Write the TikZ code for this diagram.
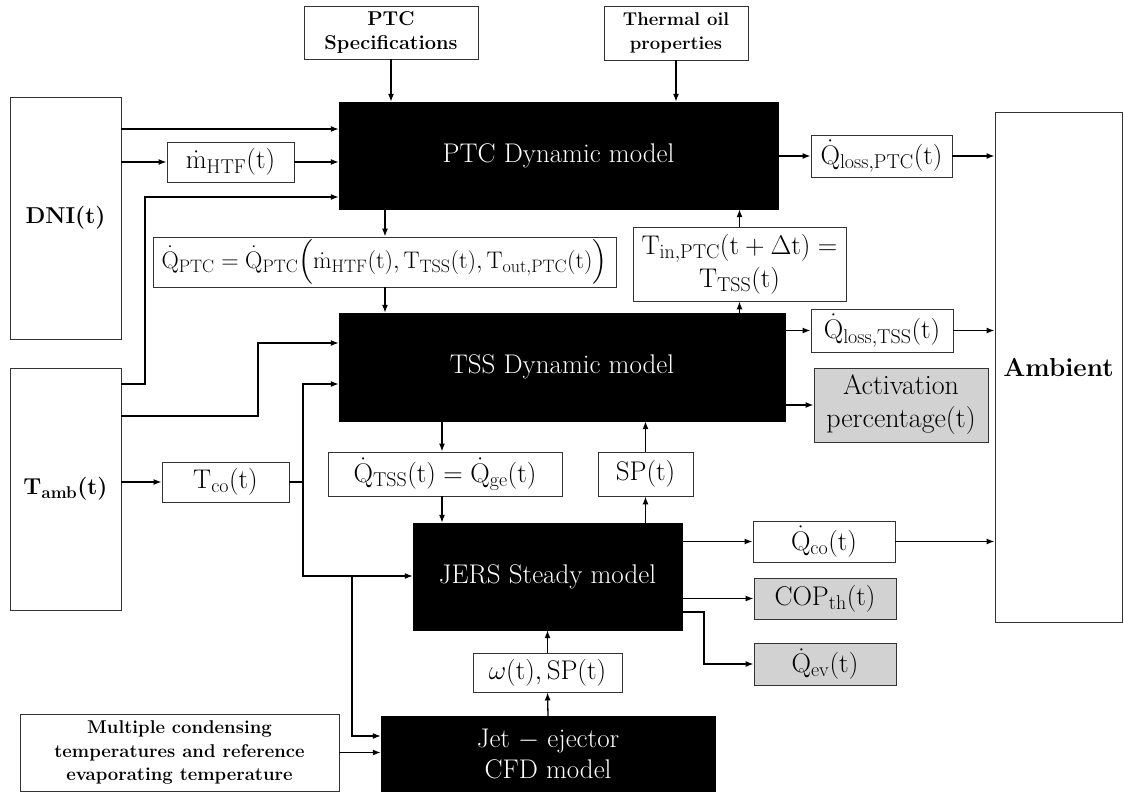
\RequirePackage{fix-cm}
\documentclass[tikz,border=0pt]{standalone}
\usepackage{amsmath}
\usetikzlibrary{arrows.meta}
\DeclareMathSizes{27}{27}{20}{15}
\DeclareMathSizes{24}{24}{18}{13}
\DeclareMathSizes{23}{23}{17}{13}
\tikzset{
  sz/.style 2 args={minimum width=#1pt, minimum height=#2pt},
  wbox/.style={draw=black!80, line width=0.9pt, fill=white, inner sep=0pt, align=center,
    font=\fontsize{27}{33}\selectfont},
  gbox/.style={wbox, fill=gray!35},
  bbox/.style={wbox, font=\bfseries\fontsize{18.5}{23.5}\selectfont},
  kbox/.style={draw=black, fill=black, text=white, inner sep=0pt, align=center,
    font=\fontsize{27}{32}\selectfont},
  conn/.style={line width=1.3pt, -{Latex[length=8pt,width=6pt]}},
  plain/.style={line width=1.3pt},
}
\newcommand{\rmq}[1]{\mathrm{#1}}
\begin{document}
\begin{tikzpicture}[x=1pt,y=-1pt]
\useasboundingbox[fill=white] (0,0) rectangle (1124,792);

% top inputs
\node[bbox, sz={174}{53}, font=\bfseries\fontsize{20}{23.5}\selectfont] (spec) at (391,32.5) {PTC\\Specifications};
\node[bbox, sz={144}{54}] (oil) at (676,33) {Thermal oil\\properties};

% black model boxes
\node[kbox, sz={439}{107}] (ptc) at (558.5,155.5) {PTC Dynamic model};
\node[kbox, sz={446}{108}] (tss) at (562,367) {TSS Dynamic model};
\node[kbox, sz={269}{107}] (jers) at (547.5,576.5) {JERS Steady model};
\node[kbox, sz={334}{75}, font=\fontsize{27}{31}\selectfont] (jet) at (548,753.5) {Jet $-$ ejector\\CFD model};

% left sources
\node[wbox, sz={111}{242}, font=\fontsize{23}{28}\selectfont] (dni) at (65.5,218)
  {{\boldmath$\mathbf{DNI}(\mathbf{t})$}};
\node[wbox, sz={111}{242}, font=\fontsize{23}{28}\selectfont] (tamb) at (65.5,489)
  {{\boldmath$\mathbf{T}_{\mathbf{amb}}(\mathbf{t})$}};
\node[bbox, sz={319}{77}] (multi) at (179.5,752.5)
  {Multiple condensing\\temperatures and reference\\evaporating temperature};

% ambient sink
\node[wbox, sz={127}{510}, font=\bfseries\fontsize{26}{30}\selectfont] (amb) at (1058.5,367) {Ambient};

% signal boxes
\node[wbox, sz={127}{40}] (mdot) at (230.5,162) {$\dot{\rmq{m}}_{\rmq{HTF}}(\rmq{t})$};
\node[wbox, sz={141}{42}] (qlp) at (881.5,156) {$\dot{\rmq{Q}}_{\rmq{loss,PTC}}(\rmq{t})$};
\node[wbox, sz={463}{50}, font=\fontsize{24}{28}\selectfont] (form) at (384.5,262)
  {$\dot{\rmq{Q}}_{\rmq{PTC}}=\dot{\rmq{Q}}_{\rmq{PTC}}\Big(\dot{\rmq{m}}_{\rmq{HTF}}(\rmq{t}),\rmq{T}_{\rmq{TSS}}(\rmq{t}),\rmq{T}_{\rmq{out,PTC}}(\rmq{t})\Big)$};
\node[wbox, sz={213}{74}] (tin) at (739.5,264)
  {$\rmq{T}_{\rmq{in,PTC}}(\rmq{t}+\Delta\rmq{t})=$\\$\rmq{T}_{\rmq{TSS}}(\rmq{t})$};
\node[wbox, sz={142}{43}] (qlt) at (882,330.5) {$\dot{\rmq{Q}}_{\rmq{loss,TSS}}(\rmq{t})$};
\node[gbox, sz={174}{74}, font=\fontsize{28}{33}\selectfont] (act) at (901,405) {Activation\\percentage(t)};
\node[wbox, sz={127}{40}] (tco) at (225.5,482) {$\rmq{T}_{\rmq{co}}(\rmq{t})$};
\node[wbox, sz={234}{44}] (qtss) at (445,474) {$\dot{\rmq{Q}}_{\rmq{TSS}}(\rmq{t})=\dot{\rmq{Q}}_{\rmq{ge}}(\rmq{t})$};
\node[wbox, sz={95}{44}] (sp) at (645.5,474) {$\rmq{SP}(\rmq{t})$};
\node[wbox, sz={142}{41}] (qco) at (824,541.5) {$\dot{\rmq{Q}}_{\rmq{co}}(\rmq{t})$};
\node[gbox, sz={142}{41}] (cop) at (825,598.5) {$\rmq{COP}_{\rmq{th}}(\rmq{t})$};
\node[gbox, sz={142}{42}] (qev) at (825,664) {$\dot{\rmq{Q}}_{\rmq{ev}}(\rmq{t})$};
\node[wbox, sz={149}{39}] (om) at (547.5,672.5) {$\omega(\rmq{t}),\rmq{SP}(\rmq{t})$};

% junction coordinates
\coordinate (j1) at (303,482);
\coordinate (j2) at (303,576);
\coordinate (j3) at (352,576);

% connectors
\draw[conn] (spec.south) -- (spec.south |- ptc.north);
\draw[conn] (oil.south) -- (oil.south |- ptc.north);
\draw[conn] (dni.east |- 0,129) -- (ptc.west |- 0,129);
\draw[conn] (dni.east |- mdot.west) -- (mdot.west);
\draw[conn] (mdot.east) -- (ptc.west |- mdot.east);
\draw[conn] (tamb.east |- 0,384) -| (145,197) -- (ptc.west |- 0,197);
\draw[conn] (385,0 |- ptc.south) -- (385,0 |- form.north);
\draw[conn] (385,0 |- form.south) -- (385,0 |- tss.north);
\draw[conn] (tin.south |- tss.north) -- (tin.south);
\draw[conn] (tin.north) -- (tin.north |- ptc.south);
\draw[conn] (ptc.east |- qlp.west) -- (qlp.west);
\draw[conn] (qlp.east) -- (amb.west |- qlp.east);
\draw[conn] (tss.east |- qlt.west) -- (qlt.west);
\draw[conn] (qlt.east) -- (amb.west |- qlt.east);
\draw[conn] (tss.east |- act.west) -- (act.west);
\draw[conn] (tamb.east |- 0,416) -| (258,343) -- (tss.west |- 0,343);
\draw[conn] (tamb.east |- tco.west) -- (tco.west);
\draw[plain] (tco.east) -- (j1);
\draw[conn] (j1) -- (303,384) -- (tss.west |- 0,384);
\draw[conn] (j1) -- (j2) -- (jers.west |- j2);
\draw[conn] (j3) -- (352,736) -- (jet.west |- 0,736);
\draw[conn] (multi.east) -- (jet.west |- multi.east);
\draw[conn] (442,0 |- tss.south) -- (442,0 |- qtss.north);
\draw[conn] (442,0 |- qtss.south) -- (442,0 |- jers.north);
\draw[conn] (sp.south |- jers.north) -- (sp.south);
\draw[conn] (sp.north) -- (sp.north |- tss.south);
\draw[conn] (jers.east |- qco.west) -- (qco.west);
\draw[conn] (qco.east) -- (amb.west |- qco.east);
\draw[conn] (jers.east |- cop.west) -- (cop.west);
\draw[conn] (jers.east |- 0,612) -| (704,664) -- (qev.west);
\draw[conn] (jet.north) -- (om.south);
\draw[conn] (om.north) -- (jers.south);
\end{tikzpicture}
\end{document}
